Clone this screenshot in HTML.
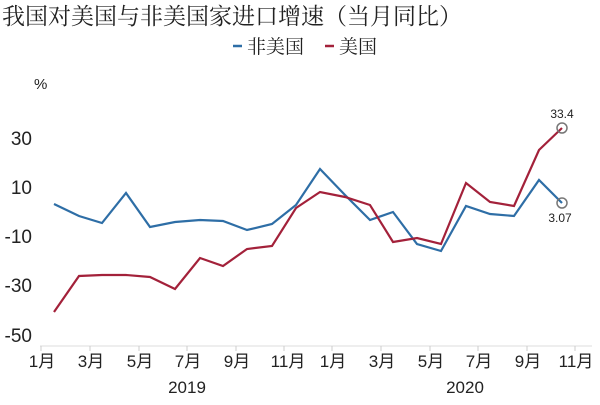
<!DOCTYPE html><html><head><meta charset="utf-8"><style>body{margin:0;background:#fff}</style></head><body>
<svg width="600" height="400" xmlns="http://www.w3.org/2000/svg" font-family="Liberation Sans, Noto Sans CJK SC, sans-serif">
<text x="2" y="24" font-size="23" font-family="Noto Serif CJK SC, serif" fill="#222">我国对美国与非美国家进口增速（当月同比）</text>
<g font-family="Noto Serif CJK SC, serif" font-size="19" fill="#222">
<line x1="233" y1="46" x2="242" y2="46" stroke="#2e6ea6" stroke-width="2.5"/><text x="247" y="53">非美国</text>
<line x1="325" y1="46" x2="334" y2="46" stroke="#a3213a" stroke-width="2.5"/><text x="339" y="53">美国</text>
</g>
<text x="34" y="89" font-size="15" fill="#222">%</text>
<g font-size="19" fill="#222" text-anchor="end">
<text x="32" y="145">30</text><text x="32" y="194">10</text><text x="32" y="243">-10</text><text x="32" y="292">-30</text><text x="32" y="342">-50</text>
</g>
<line x1="40" y1="346" x2="592" y2="346" stroke="#ddd"/>
<g stroke="#ccc"><line x1="41" y1="346" x2="41" y2="351"/><line x1="90" y1="346" x2="90" y2="351"/><line x1="139" y1="346" x2="139" y2="351"/><line x1="187" y1="346" x2="187" y2="351"/><line x1="236" y1="346" x2="236" y2="351"/><line x1="284" y1="346" x2="284" y2="351"/><line x1="332" y1="346" x2="332" y2="351"/><line x1="381" y1="346" x2="381" y2="351"/><line x1="430" y1="346" x2="430" y2="351"/><line x1="478" y1="346" x2="478" y2="351"/><line x1="527" y1="346" x2="527" y2="351"/><line x1="575" y1="346" x2="575" y2="351"/></g>
<g font-size="17" fill="#222" text-anchor="middle">
<text x="42" y="367">1月</text><text x="91" y="367">3月</text><text x="140" y="367">5月</text><text x="188" y="367">7月</text><text x="237" y="367">9月</text><text x="288" y="367">11月</text><text x="333" y="367">1月</text><text x="382" y="367">3月</text><text x="431" y="367">5月</text><text x="479" y="367">7月</text><text x="528" y="367">9月</text><text x="576" y="367">11月</text>
<text x="187" y="393">2019</text><text x="465" y="393">2020</text>
</g>
<polyline fill="none" stroke="#2e6ea6" stroke-width="2.2" points="54,204 79,216 102,223 126,193 150,227 175,222 200,220 223,221 247,230 272,224 296,205 320,169 345,195 370,220 393,212 417,244 441,251 466,206 490,214 514,216 539,180 562,203"/>
<polyline fill="none" stroke="#a3213a" stroke-width="2.2" points="54,312 79,276 102,275 126,275 150,277 175,289 200,258 223,266 247,249 272,246 296,208 320,192 345,197 370,205 393,242 417,238 441,244 466,183 490,202 514,206 539,150 562,128"/>
<circle cx="562" cy="128" r="5" fill="none" stroke="#777" stroke-width="1.5"/>
<circle cx="562" cy="203" r="5" fill="none" stroke="#777" stroke-width="1.5"/>
<text x="562" y="118" font-size="12" fill="#222" text-anchor="middle">33.4</text>
<text x="560" y="222" font-size="12" fill="#222" text-anchor="middle">3.07</text>
</svg></body></html>
